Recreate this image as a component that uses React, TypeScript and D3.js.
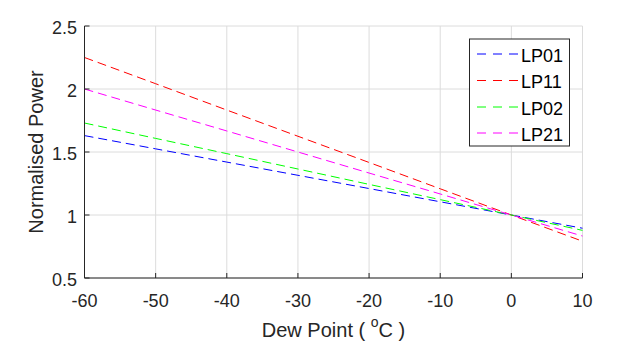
import React from "react";
import * as d3 from "d3";

const dewPoints = [-60, -50, -40, -30, -20, -10, 0, 10];
const lp01 = [1.63, 1.525, 1.42, 1.315, 1.21, 1.105, 1.0, 0.895];
const lp11 = [2.25, 2.042, 1.833, 1.625, 1.417, 1.208, 1.0, 0.792];
const lp02 = [1.73, 1.608, 1.487, 1.365, 1.243, 1.122, 1.0, 0.878];
const lp21 = [2.0, 1.833, 1.667, 1.5, 1.333, 1.167, 1.0, 0.833];
const seriesNames = ["LP01", "LP11", "LP02", "LP21"];
const seriesColors = ["#0000ff", "#ff0000", "#00ff00", "#ff00ff"];
const xTicks = [-60, -50, -40, -30, -20, -10, 0, 10];
const yTicks = [0.5, 1, 1.5, 2, 2.5];
const yTickLabels = ["0.5", "1", "1.5", "2", "2.5"];

const W = 644, H = 343;
const L = 84.5, R = 582.5, T = 26, B = 278;
const axisColor = "#262626";
const gridColor = "#dcdcdc";
const font = "'Liberation Sans', Arial, sans-serif";

export default function App() {
  const x = d3.scaleLinear().domain([-60, 10]).range([L, R]);
  const y = d3.scaleLinear().domain([0.5, 2.5]).range([B, T]);
  const allSeries = [lp01, lp11, lp02, lp21];
  const line = d3
    .line<number>()
    .x((_, i) => x(dewPoints[i]))
    .y((d) => y(d));
  const legendX = 469.5, legendY = 39, legendW = 100, legendH = 107;
  const entryY = [54, 80.5, 107, 133];
  return (
    <svg width={W} height={H} style={{ position: "absolute", left: 0, top: 0, background: "#fff" }}>
      <rect x={0} y={0} width={W} height={H} fill="#fff" />
      {xTicks.map((t) => (
        <line key={"gx" + t} x1={x(t)} x2={x(t)} y1={T} y2={B} stroke={gridColor} strokeWidth={1} />
      ))}
      {yTicks.map((t) => (
        <line key={"gy" + t} x1={L} x2={R} y1={y(t)} y2={y(t)} stroke={gridColor} strokeWidth={1} />
      ))}
      {allSeries.map((s, i) => (
        <path key={seriesNames[i]} d={line(s) || ""} fill="none" stroke={seriesColors[i]} strokeWidth={1} strokeDasharray="9,5" />
      ))}
      <line x1={L} x2={R} y1={B} y2={B} stroke={axisColor} strokeWidth={1} />
      <line x1={L} x2={L} y1={T} y2={B} stroke={axisColor} strokeWidth={1} />
      {xTicks.map((t) => (
        <g key={"tx" + t}>
          <line x1={x(t)} x2={x(t)} y1={B} y2={B - 5} stroke={axisColor} strokeWidth={1} />
          <text x={x(t)} y={306.5} textAnchor="middle" fontFamily={font} fontSize={18} fill={axisColor}>
            {t}
          </text>
        </g>
      ))}
      {yTicks.map((t, i) => (
        <g key={"ty" + t}>
          <line x1={L} x2={L + 5} y1={y(t)} y2={y(t)} stroke={axisColor} strokeWidth={1} />
          <text x={77} y={y(t) + 7.5} textAnchor="end" fontFamily={font} fontSize={18} fill={axisColor}>
            {yTickLabels[i]}
          </text>
        </g>
      ))}
      <text x={(L + R) / 2} y={337} textAnchor="middle" fontFamily={font} fontSize={20} fill={axisColor}>
        Dew Point ( <tspan dy={-10} fontSize={14}>o</tspan>
        <tspan dy={10}>C )</tspan>
      </text>
      <text
        transform={`translate(43,${(T + B) / 2}) rotate(-90)`}
        textAnchor="middle"
        fontFamily={font}
        fontSize={20}
        fill={axisColor}
      >
        Normalised Power
      </text>
      <rect x={legendX} y={legendY} width={legendW} height={legendH} fill="#fff" stroke={axisColor} strokeWidth={1} />
      {seriesNames.map((n, i) => (
        <g key={"lg" + n}>
          <line x1={477} x2={518} y1={entryY[i]} y2={entryY[i]} stroke={seriesColors[i]} strokeWidth={1} strokeDasharray="9,7" />
          <text x={521} y={entryY[i] + 7.5} fontFamily={font} fontSize={18} fill="#000">
            {n}
          </text>
        </g>
      ))}
    </svg>
  );
}
